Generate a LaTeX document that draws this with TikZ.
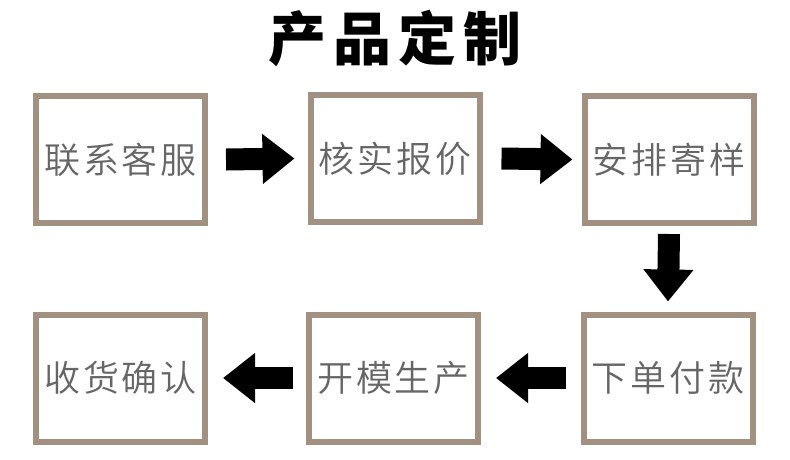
\documentclass[tikz,border=0pt]{standalone}
\usepackage{fontspec}
\usetikzlibrary{arrows.meta}
\newfontfamily\cjk[LetterSpace=8]{Noto Sans CJK SC DemiLight}
\newfontfamily\cjktitle[LetterSpace=12]{Noto Sans CJK SC Black}
\definecolor{boxbrown}{HTML}{A29180}
\definecolor{textgray}{HTML}{666666}

\begin{document}
\begin{tikzpicture}[x=1pt, y=-1pt,
    stepbox/.style={draw=boxbrown, line width=6pt, minimum width=169pt, minimum height=127pt,
                    inner sep=0pt, text=textgray, font=\cjk\fontsize{36}{36}\selectfont},
    bigarrow/.style={line width=22pt, -{Triangle[length=32pt,width=48pt]}}]
        \useasboundingbox (0,0) rectangle (790,459);
        \node[font=\cjktitle\fontsize{58}{58}\selectfont] (title) at (395,38.5) {产品定制};
        \foreach \n/\x/\y/\t in {s1/120.5/159.5/联系客服, s2/395/158.5/核实报价, s3/669/159.5/安排寄样,
                                 s4/120.5/378/收货确认, s5/393.5/378/开模生产, s6/668/378/下单付款}
            \node[stepbox] (\n) at (\x,\y) {\raisebox{-4pt}{\t}};
        \draw[bigarrow] ([xshift=18pt]s1.east) -- ([xshift=-13pt]s2.west);
        \draw[bigarrow] ([xshift=19pt]s2.east) -- ([xshift=-9pt]s3.west);
        \draw[bigarrow] ([yshift=-8pt]s3.south) -- ([yshift=10pt]s6.north);
        \draw[bigarrow] ([xshift=-15pt]s6.west) -- ([xshift=15pt]s5.east);
        \draw[bigarrow] ([xshift=-13pt]s5.west) -- ([xshift=15pt]s4.east);
    \end{tikzpicture}
\end{document}
